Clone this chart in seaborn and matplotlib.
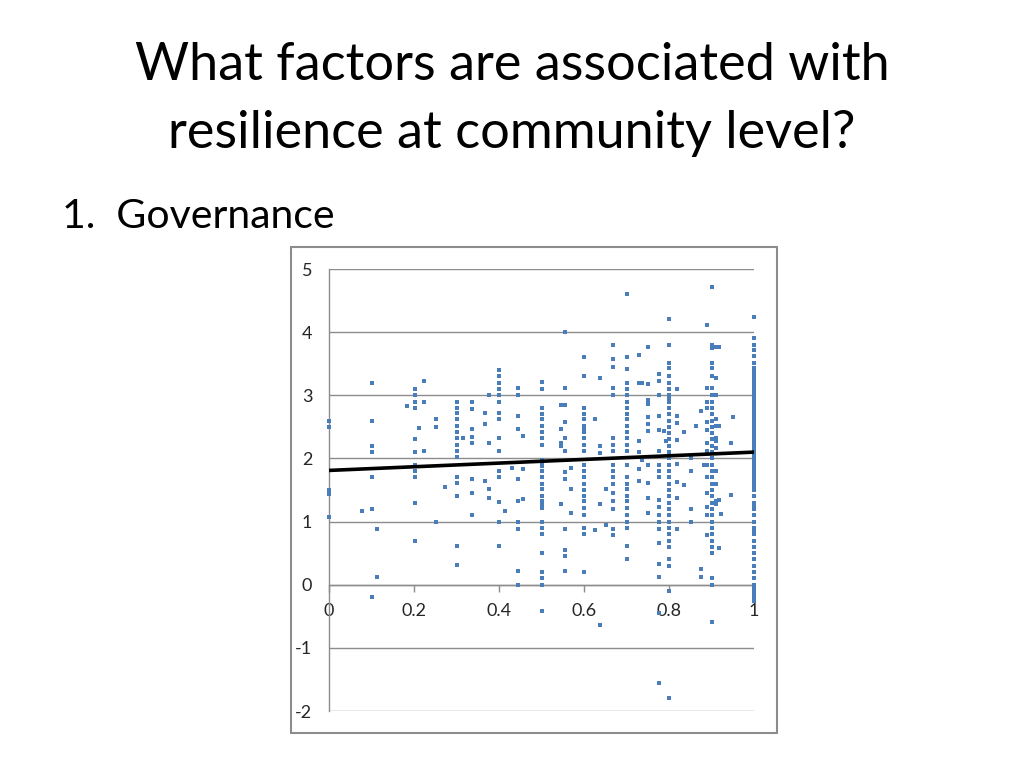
import pandas as pd
import matplotlib.pyplot as plt
import matplotlib.patches as patches
import seaborn as sns

# Governance score (x) vs resilience (y), grouped by x column
col_x = [0.0, 0.078, 0.102, 0.114, 0.183, 0.202, 0.212, 0.224, 0.252, 0.274,
         0.30, 0.316, 0.336, 0.366, 0.377, 0.40, 0.415, 0.43, 0.445, 0.457,
         0.50, 0.547, 0.555, 0.57, 0.60, 0.626, 0.638, 0.652, 0.668, 0.702,
         0.73, 0.737, 0.75, 0.777, 0.788, 0.792, 0.80, 0.818, 0.835, 0.851,
         0.863, 0.875, 0.883, 0.89, 0.90, 0.91, 0.918, 0.922, 0.945, 0.951, 1.0]
col_y = [
    [2.6, 2.5, 1.5, 1.43, 1.08],
    [1.16],
    [3.2, 2.6, 2.2, 2.1, 1.7, 1.2, -0.2],
    [0.88, 0.12],
    [2.83],
    [3.1, 3.0, 2.9, 2.8, 2.3, 2.1, 1.9, 1.8, 1.7, 1.3, 0.69],
    [2.48],
    [3.23, 2.9, 2.12],
    [2.62, 2.5, 1.0],
    [1.55],
    [2.9, 2.8, 2.72, 2.62, 2.52, 2.42, 2.32, 2.22, 2.12, 2.02, 1.7, 1.61, 1.41, 0.61, 0.31],
    [2.33],
    [2.9, 2.79, 2.46, 2.34, 2.24, 1.67, 1.45, 1.11],
    [2.72, 2.55, 1.64],
    [3.0, 2.25, 1.51, 1.37],
    [3.4, 3.3, 3.2, 3.1, 3.0, 2.9, 2.72, 2.62, 2.32, 2.12, 1.8, 1.7, 1.31, 1.0, 0.61],
    [1.17],
    [1.85],
    [3.12, 3.0, 2.67, 2.46, 1.67, 1.33, 1.0, 0.88, 0.22, 0.0],
    [2.36, 1.83, 1.36],
    [3.21, 3.1, 2.8, 2.71, 2.62, 2.52, 2.42, 2.32, 2.22, 1.98, 1.93, 1.88, 1.8, 1.7,
     1.6, 1.51, 1.41, 1.32, 1.28, 1.22, 1.0, 0.9, 0.81, 0.51, 0.2, 0.1, 0.0, -0.41],
    [2.85, 2.47, 2.25, 2.19, 1.28],
    [4.0, 3.12, 2.85, 2.58, 2.33, 2.12, 1.78, 1.67, 0.88, 0.55, 0.45, 0.22],
    [1.85, 1.52, 1.13],
    [3.61, 3.31, 2.8, 2.71, 2.62, 2.52, 2.46, 2.42, 2.32, 2.22, 2.12, 1.9, 1.8, 1.7,
     1.6, 1.5, 1.41, 1.32, 1.22, 1.1, 0.9, 0.81, 0.2],
    [2.63, 0.87],
    [3.27, 2.19, 2.09, 1.28, -0.64],
    [1.51, 0.95],
    [3.79, 3.57, 3.45, 3.12, 3.0, 2.33, 2.22, 2.12, 1.9, 1.8, 1.7, 1.6, 1.45, 1.33,
     1.2, 0.88, 0.78],
    [4.61, 3.61, 3.41, 3.2, 3.1, 3.0, 2.9, 2.8, 2.71, 2.62, 2.52, 2.42, 2.32, 2.22,
     2.12, 1.9, 1.7, 1.6, 1.51, 1.41, 1.32, 1.22, 1.1, 1.0, 0.9, 0.62, 0.41],
    [3.64, 3.19, 2.28, 2.1, 1.84, 1.64],
    [3.2, 1.98],
    [3.76, 3.18, 2.92, 2.89, 2.86, 2.65, 2.55, 2.43, 1.89, 1.61, 1.37, 1.14],
    [3.34, 3.23, 3.0, 2.67, 2.45, 2.12, 1.9, 1.8, 1.7, 1.34, 1.23, 1.11, 1.0, 0.88,
     0.66, 0.33, 0.12, -0.45, -1.55],
    [2.43],
    [2.27],
    [4.21, 3.8, 3.51, 3.44, 3.31, 3.2, 3.1, 3.0, 2.95, 2.9, 2.8, 2.7, 2.6, 2.5, 2.4,
     2.3, 2.2, 2.1, 2.0, 1.9, 1.8, 1.7, 1.6, 1.5, 1.4, 1.3, 1.2, 1.1, 1.0, 0.9, 0.8,
     0.7, 0.6, 0.41, 0.3, -0.1, -1.8],
    [3.1, 2.67, 2.56, 2.29, 1.91, 1.63, 1.37, 0.88],
    [2.42, 1.58],
    [2.0, 1.8, 1.2, 1.0],
    [2.51],
    [2.75, 0.25, 0.13],
    [1.89],
    [4.12, 3.12, 2.9, 2.8, 2.57, 2.45, 2.24, 2.12, 1.9, 1.7, 1.46, 1.23, 1.11, 0.79],
    [4.72, 3.8, 3.75, 3.51, 3.44, 3.31, 3.12, 3.0, 2.9, 2.8, 2.7, 2.6, 2.5, 2.4, 2.3,
     2.2, 2.1, 2.0, 1.9, 1.8, 1.7, 1.6, 1.5, 1.4, 1.3, 1.2, 1.1, 1.0, 0.9, 0.8, 0.7,
     0.6, 0.51, 0.1, 0.0, -0.59],
    [3.76, 3.28, 3.0, 2.63, 2.52, 2.33, 2.28, 2.16, 1.8, 1.6, 1.33, 1.28],
    [3.76, 2.51, 1.34, 0.58],
    [1.12],
    [2.24, 1.42],
    [2.66],
    [4.24, 3.91, 3.8, 3.72, 3.62, 3.51, 3.44, 3.4, 3.35, 3.3, 3.25, 3.2, 3.15, 3.1,
     3.05, 3.0, 2.95, 2.9, 2.85, 2.8, 2.75, 2.7, 2.65, 2.6, 2.55, 2.5, 2.45, 2.4, 2.35,
     2.3, 2.25, 2.2, 2.15, 2.1, 2.05, 2.0, 1.95, 1.9, 1.85, 1.8, 1.75, 1.7, 1.65, 1.6,
     1.55, 1.5, 1.4, 1.3, 1.25, 1.2, 1.1, 1.0, 0.9, 0.85, 0.8, 0.7, 0.6, 0.5, 0.4,
     0.3, 0.2, 0.1, 0.0, -0.07, -0.13, -0.2, -0.26],
]

# Linear trend line end points
trend_x = [0.0, 1.0]
trend_y = [1.81, 2.10]

x_ticks = [0, 0.2, 0.4, 0.6, 0.8, 1]
x_tick_labels = ['0', '0.2', '0.4', '0.6', '0.8', '1']
y_ticks = [-2, -1, 0, 1, 2, 3, 4, 5]

df = pd.DataFrame({
    'governance': [x for x, ys in zip(col_x, col_y) for _ in ys],
    'resilience': [y for ys in col_y for y in ys],
})
trend_df = pd.DataFrame({'governance': trend_x, 'resilience': trend_y})

sns.set_style('white')
plt.rcParams['font.family'] = ['Lato', 'DejaVu Sans']

fig = plt.figure(figsize=(10.24, 7.68), dpi=100)

# Slide title and bullet
fig.text(0.5, 1 - 80 / 768, 'What factors are associated with', ha='center',
         va='baseline', fontsize=37.6, color='black')
fig.text(0.5, 1 - 148 / 768, 'resilience at community level?', ha='center',
         va='baseline', fontsize=37.6, color='black')
fig.text(62 / 1024, 1 - 228 / 768, '1.  Governance', ha='left', va='baseline',
         fontsize=29.5, color='black')

# Chart frame
fig.patches.append(patches.Rectangle((291 / 1024, 1 - 733 / 768), 486 / 1024, 486 / 768,
                                     transform=fig.transFigure, fill=False,
                                     edgecolor='#8c8c8c', linewidth=1.5))

ax = fig.add_axes([329 / 1024, 1 - 711 / 768, 425 / 1024, 442 / 768])
ax.set_facecolor('none')

sns.scatterplot(data=df, x='governance', y='resilience', ax=ax, marker='s', s=5,
                color='#4a7ebb', linewidth=0, clip_on=False, zorder=3)
sns.lineplot(data=trend_df, x='governance', y='resilience', ax=ax, color='black',
             linewidth=2.6, zorder=4)

ax.set_xlim(0, 1)
ax.set_ylim(-2, 5)
ax.set_xlabel('')
ax.set_ylabel('')
ax.set_yticks(y_ticks)
ax.set_yticklabels([str(v) for v in y_ticks])
ax.set_xticks(x_ticks)
ax.set_xticklabels(x_tick_labels)

ax.grid(axis='y', color='#8c8c8c', linewidth=1)
ax.grid(axis='x', visible=False)
for side in ['top', 'right']:
    ax.spines[side].set_visible(False)
ax.spines['bottom'].set_position(('data', 0))
ax.spines['bottom'].set_color('#8c8c8c')
ax.spines['left'].set_color('#8c8c8c')
ax.spines['left'].set_linewidth(1)
ax.spines['bottom'].set_linewidth(1)

ax.tick_params(axis='x', direction='out', length=5, width=1, color='#8c8c8c',
               labelsize=13, pad=8, bottom=True)
ax.tick_params(axis='y', length=0, labelsize=13, pad=12, left=True)

fig.savefig('out.png', dpi=100)
